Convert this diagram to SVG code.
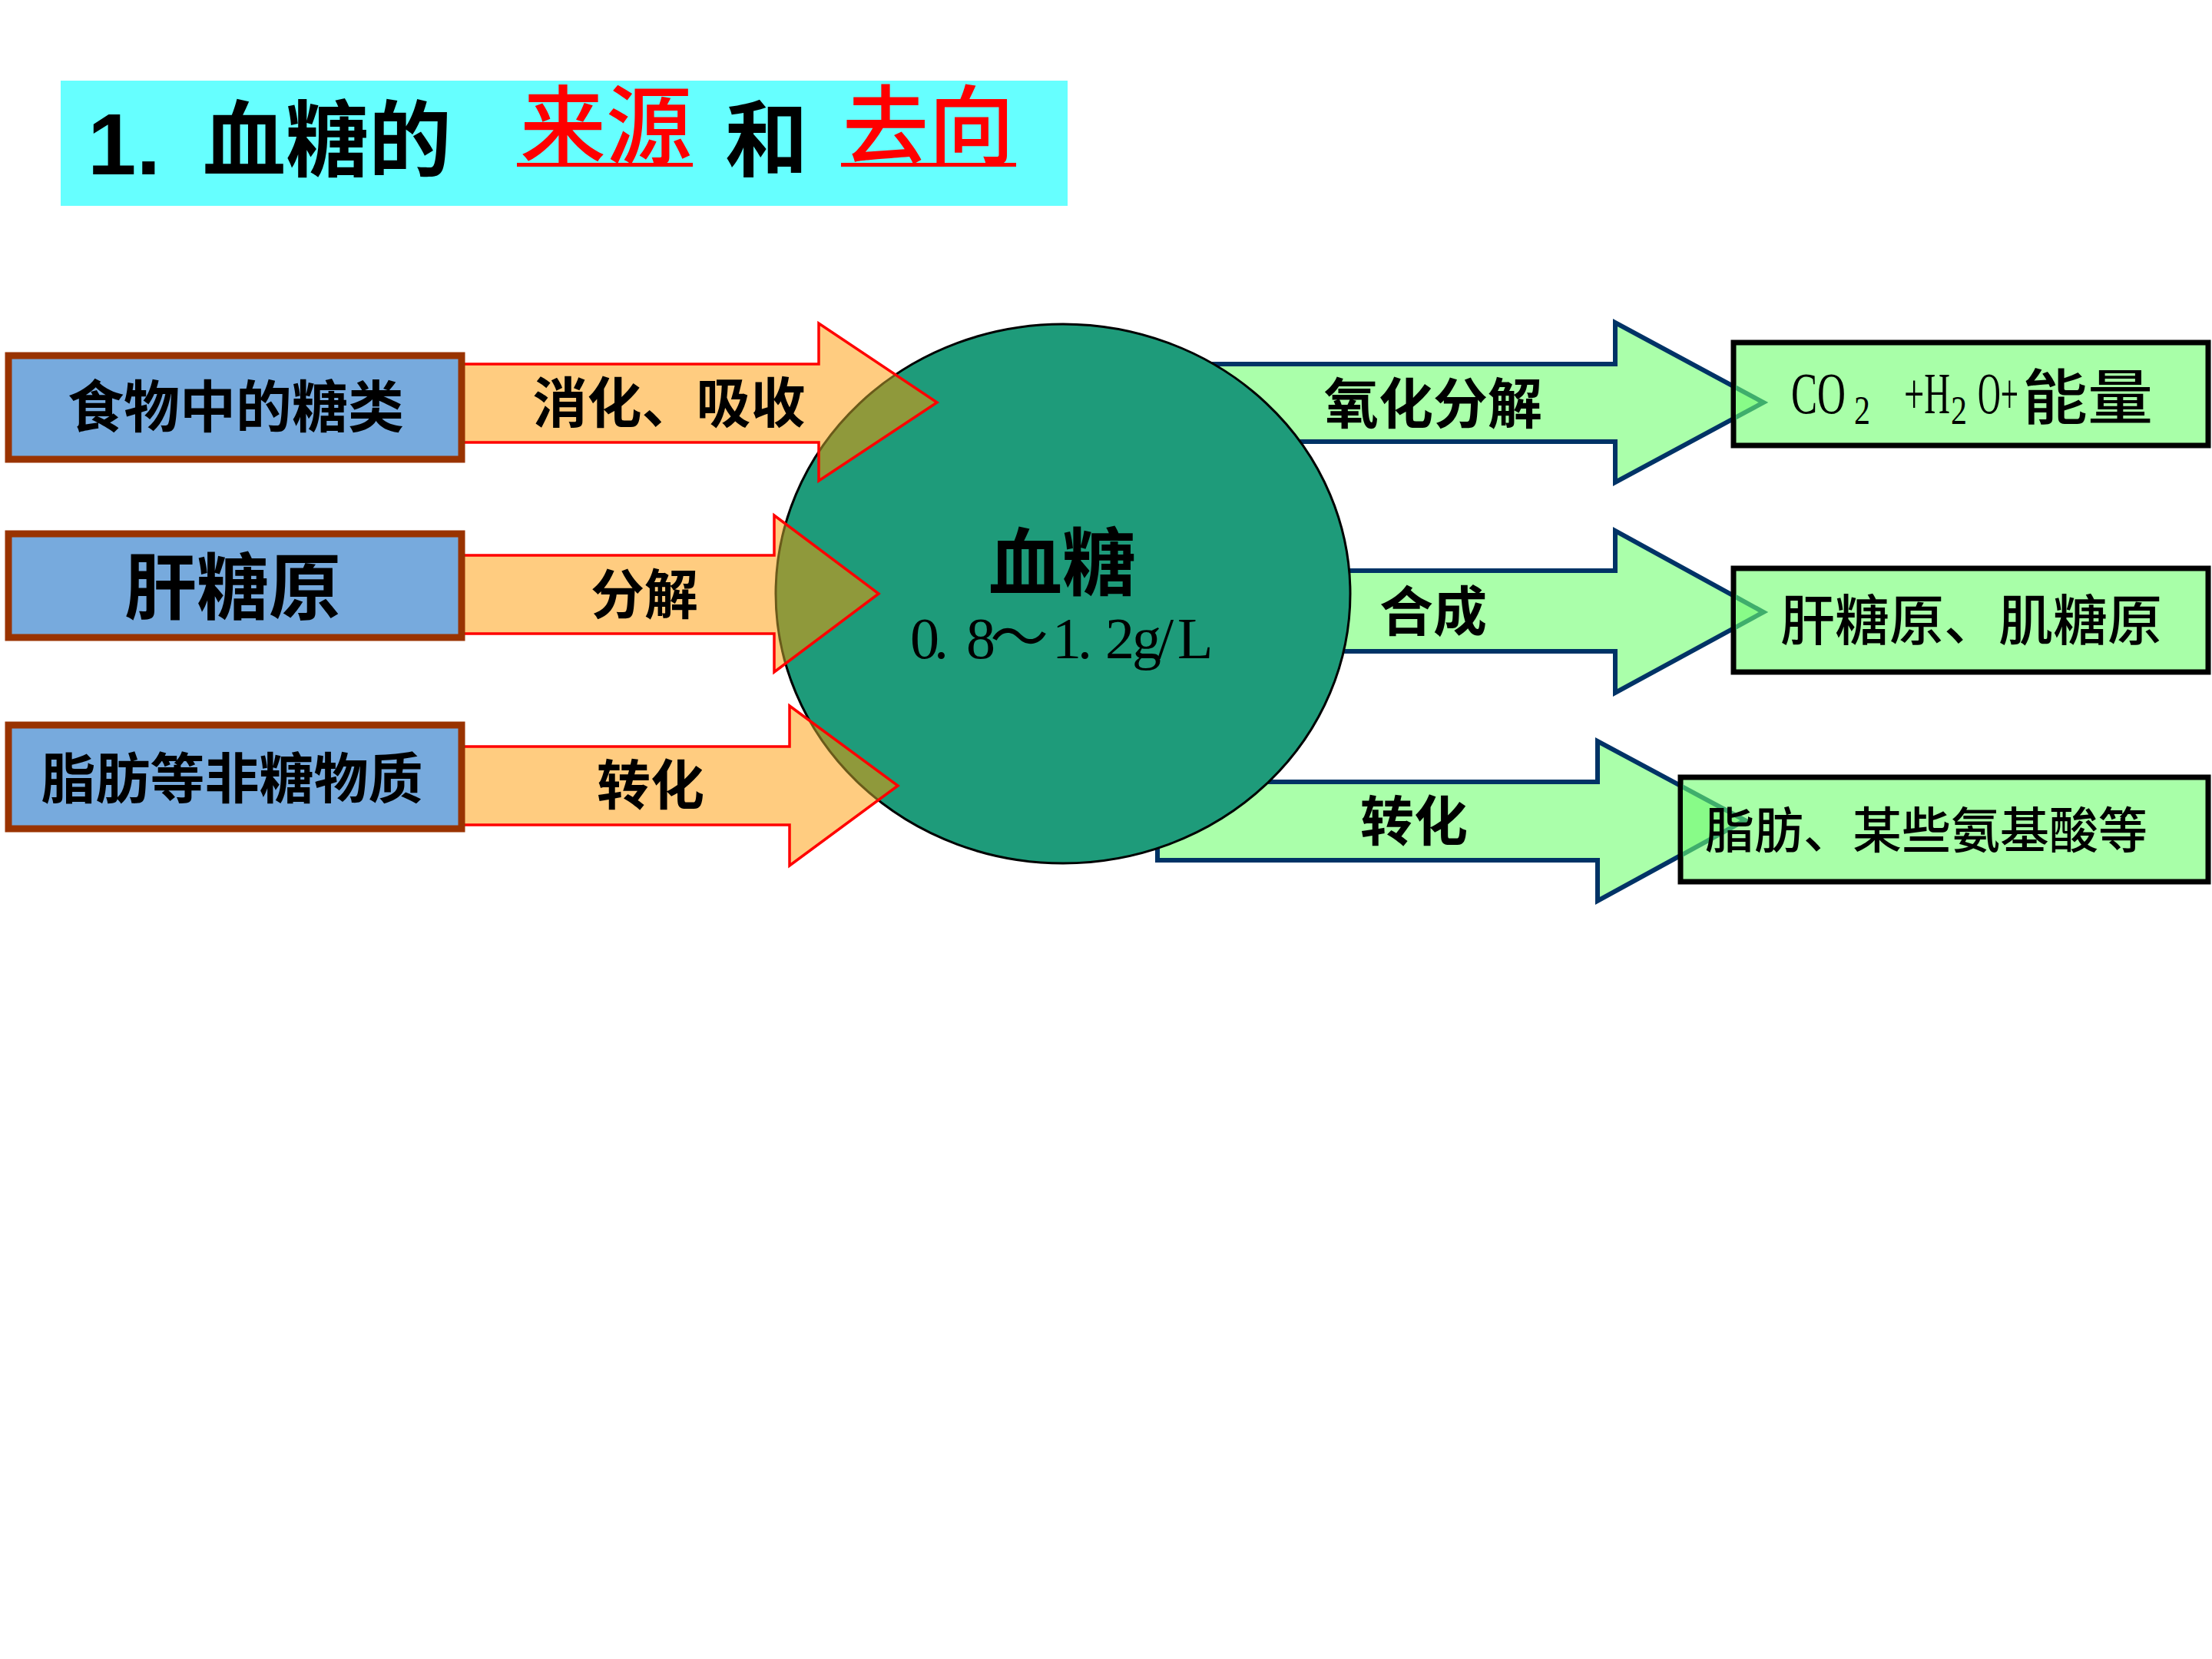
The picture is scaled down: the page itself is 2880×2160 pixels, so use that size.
<svg xmlns="http://www.w3.org/2000/svg" width="2880" height="2160" viewBox="0 0 2880 2160">
  <style>
    .cjk { font-family: "Noto Sans CJK SC", "Noto Sans", sans-serif; fill: #000; }
    .lbl { font-family: "Noto Sans CJK SC", sans-serif; font-weight: bold; fill: #000; text-anchor: middle; }
    .ser { font-family: "Liberation Serif", "Noto Sans CJK SC", serif; fill: #000; }
    .srcbox { fill: #77AADD; stroke: #993300; stroke-width: 9; }
    .dstbox { fill: #A8FFA8; stroke: #000; stroke-width: 7; }
    .oarrow { fill: #FFCC80; }
    .oline { fill: none; stroke: #FF0000; stroke-width: 3.5; stroke-linejoin: miter; }
    .garrow { fill: #AAFFAA; stroke: #003366; stroke-width: 6; stroke-linejoin: miter; }
    .tip { fill: #88FB88; stroke: #3FAE6C; stroke-width: 6; }
  </style>
  <defs>
    <clipPath id="oarrowClip">
      <polygon points="601,474 1066,474 1066,421 1220,524 1066,626 1066,576 601,576"/>
      <polygon points="601,723 1008,723 1008,671 1144,773 1008,875 1008,825 601,825"/>
      <polygon points="601,972 1028,972 1028,919 1169,1023 1028,1127 1028,1074 601,1074"/>
    </clipPath>
    <clipPath id="dst1Clip"><rect x="2260" y="449" width="612" height="128"/></clipPath>
    <clipPath id="dst2Clip"><rect x="2260" y="743" width="612" height="129"/></clipPath>
    <clipPath id="dst3Clip"><rect x="2191" y="1015" width="681" height="130"/></clipPath>
  </defs>

  <rect width="2880" height="2160" fill="#FFFFFF"/>

  <!-- Title -->
  <g id="title">
    <rect x="79" y="105" width="1311" height="163" fill="#66FFFF"/>
    <text x="114" y="227" font-family="Liberation Sans, sans-serif" font-weight="bold" font-size="114" fill="#000">1.</text>
    <text x="264" y="221" class="cjk" font-weight="bold" font-size="108">血糖的</text>
    <text x="677" y="205" class="cjk" font-weight="500" font-size="112" style="fill:#FF0000">来源</text>
    <rect x="673" y="212" width="229" height="5" fill="#FF0000"/>
    <text x="944" y="221" class="cjk" font-weight="bold" font-size="108">和</text>
    <text x="1097" y="205" class="cjk" font-weight="500" font-size="112" style="fill:#FF0000">去向</text>
    <rect x="1095" y="212" width="228" height="5" fill="#FF0000"/>
  </g>

  <!-- Connectors -->
  <g id="connectors">
    <polygon id="out1" class="garrow" points="1500,474 2103,474 2103,420 2296,524 2103,628 2103,575 1500,575"/>
    <polygon id="out2" class="garrow" points="1500,743 2103,743 2103,691 2296,797 2103,902 2103,848 1500,848"/>
    <polygon id="out3" class="garrow" points="1507,1018 2080,1018 2080,965 2272,1068 2080,1173 2080,1120 1507,1120"/>
  </g>

  <!-- Central node -->
  <g id="node-blood-sugar">
    <ellipse cx="1384" cy="773" rx="374" ry="351" fill="#1E9B7A" stroke="#000" stroke-width="3"/>
    <text x="1383" y="767" class="lbl" font-size="96">血糖</text>
    <text class="ser" font-size="76" y="857" x="1185 1216 1258 1289 1370 1403 1439 1474 1507 1533">0.8～1.2g/L</text>
  </g>

  <!-- incoming orange arrows (over circle) -->
  <g id="incoming-arrows">
    <polygon class="oarrow" points="601,474 1066,474 1066,421 1220,524 1066,626 1066,576 601,576"/>
    <polygon class="oarrow" points="601,723 1008,723 1008,671 1144,773 1008,875 1008,825 601,825"/>
    <polygon class="oarrow" points="601,972 1028,972 1028,919 1169,1023 1028,1127 1028,1074 601,1074"/>
    <g clip-path="url(#oarrowClip)">
      <ellipse cx="1384" cy="773" rx="374" ry="351" fill="#8F993B"/>
      <ellipse cx="1384" cy="773" rx="374" ry="351" fill="none" stroke="#6A5A1A" stroke-width="3"/>
    </g>
    <polygon class="oline" points="601,474 1066,474 1066,421 1220,524 1066,626 1066,576 601,576"/>
    <polygon class="oline" points="601,723 1008,723 1008,671 1144,773 1008,875 1008,825 601,825"/>
    <polygon class="oline" points="601,972 1028,972 1028,919 1169,1023 1028,1127 1028,1074 601,1074"/>
    <text x="871" y="550" class="lbl" font-size="71">消化、吸收</text>
    <text x="839" y="800" class="lbl" font-size="70">分解</text>
    <text x="847" y="1048" class="lbl" font-size="70">转化</text>
  </g>

  <!-- outgoing labels -->
  <g id="outgoing-labels">
    <text x="1866" y="551" class="lbl" font-size="71">氧化分解</text>
    <text x="1866" y="822" class="lbl" font-size="70">合成</text>
    <text x="1841" y="1095" class="lbl" font-size="70">转化</text>
  </g>

  <!-- Source nodes -->
  <g id="node-food-sugar">
    <rect class="srcbox" x="11" y="463" width="590" height="135"/>
    <text x="307" y="556" class="lbl" font-size="73">食物中的糖类</text>
  </g>
  <g id="node-liver-glycogen">
    <rect class="srcbox" x="11" y="695" width="590" height="135"/>
    <text x="303" y="799" class="lbl" font-size="94">肝糖原</text>
  </g>
  <g id="node-non-sugar">
    <rect class="srcbox" x="11" y="944" width="590" height="135"/>
    <text x="302" y="1039" class="lbl" font-size="71">脂肪等非糖物质</text>
  </g>

  <!-- Destination nodes -->
  <g id="node-co2">
    <rect class="dstbox" x="2257" y="446" width="618" height="134"/>
    <g clip-path="url(#dst1Clip)">
      <polygon class="tip" points="2103,474 2103,420 2296,524 2103,628 2103,575"/>
    </g>
    <text class="ser" font-size="76">
      <tspan x="2332" y="538" textLength="71" lengthAdjust="spacingAndGlyphs">CO</tspan>
      <tspan x="2414" y="552" font-size="53" textLength="21" lengthAdjust="spacingAndGlyphs">2</tspan>
      <tspan x="2479" y="538" textLength="60" lengthAdjust="spacingAndGlyphs">+H</tspan>
      <tspan x="2540" y="552" font-size="53" textLength="21" lengthAdjust="spacingAndGlyphs">2</tspan>
      <tspan x="2575" y="538" textLength="53" lengthAdjust="spacingAndGlyphs">O+</tspan>
    </text>
    <text x="2633" y="546" class="cjk" font-weight="500" font-size="78" textLength="170" lengthAdjust="spacingAndGlyphs">能量</text>
  </g>
  <g id="node-glycogen">
    <rect class="dstbox" x="2257" y="740" width="618" height="135"/>
    <g clip-path="url(#dst2Clip)">
      <polygon class="tip" points="2103,743 2103,691 2296,797 2103,902 2103,848"/>
    </g>
    <text x="2318" y="833" class="cjk" font-weight="500" font-size="71">肝糖原、肌糖原</text>
  </g>
  <g id="node-fat-amino">
    <rect class="dstbox" x="2188" y="1012" width="687" height="136"/>
    <g clip-path="url(#dst3Clip)">
      <polygon class="tip" points="2080,1018 2080,965 2272,1068 2080,1173 2080,1120"/>
    </g>
    <text x="2220" y="1104" class="cjk" font-weight="500" font-size="64">脂肪、某些氨基酸等</text>
  </g>
</svg>
